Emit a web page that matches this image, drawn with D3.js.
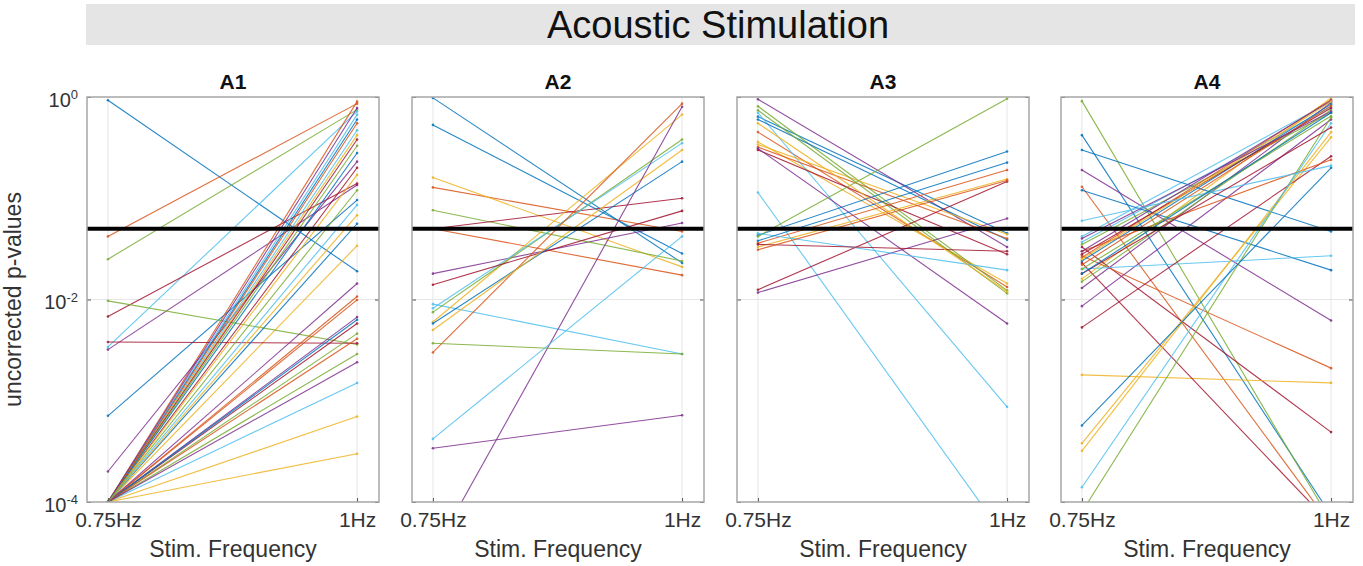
<!DOCTYPE html>
<html>
<head>
<meta charset="utf-8">
<script src="https://cdn.jsdelivr.net/npm/d3@7"></script>
<style>
  body { margin: 0; background: #fff; }
  text { font-family: "Liberation Sans", Arial, Helvetica, sans-serif; }
</style>
</head>
<body>
<svg id="chart"></svg>
<script>
// stimulation frequencies on the x axis
const freqs = [0.75, 1];
const freqLabels = ['0.75Hz', '1Hz'];
const panelNames = ['A1', 'A2', 'A3', 'A4'];
const yTicks = [1, 1e-2, 1e-4];
const yTickExp = ['0', '-2', '-4'];
const threshold = 0.05;

// p-values per line (colour follows the default colour order, line i -> colour i % 7)
const a1At075 = [0.93, 0.042, 1e-4, 0.0032, 0.025, 0.0034, 0.0068,
                 0.00071, 1e-4, 1e-4, 0.0002, 0.0097, 1e-4, 0.0038,
                 1e-4, 1e-4, 1e-4, 1e-4, 1e-4, 1e-4, 1e-4,
                 1e-4, 1e-4, 1e-4, 1e-4, 1e-4, 1e-4, 1e-4,
                 1e-4, 1e-4, 1e-4, 1e-4, 1e-4, 1e-4, 1e-4,
                 1e-4, 1e-4, 1e-4, 1e-4, 1e-4];
const a1At1   = [0.019, 0.86, 0.034, 0.135, 0.75, 0.72, 0.14,
                 0.096, 0.9, 0.0007, 0.23, 0.0036, 0.0015, 0.0037,
                 0.6, 0.0107, 0.0003, 0.0144, 0.0029, 0.47, 0.0058,
                 0.056, 0.0099, 0.42, 0.0067, 0.0046, 0.67, 0.38,
                 0.0063, 0.0041, 0.068, 0.0024, 0.33, 0.086, 0.2,
                 0.28, 0.55, 0.17, 0.78, 0.12];

const a2At075 = [0.98, 0.128, 0.16, 0.018, 0.076, 0.009, 0.05,
                 0.53, 0.05, 0.006, 0.00034, 0.0075, 0.0082, 0.014,
                 0.0058, 0.003, 0.005, 3.1e-5, 0.0037, 0.00042];
const a2At1   = [0.023, 0.047, 0.021, 0.057, 0.024, 0.0029, 0.10,
                 0.0285, 0.0174, 0.67, 0.00072, 0.38, 0.35, 0.075,
                 0.23, 0.86, 0.3, 0.8, 0.0029, 0.042];

const a3At075 = [0.64, 0.45, 0.36, 0.95, 0.81, 0.7, 0.3,
                 0.6, 0.32, 0.34, 0.31, 0.74, 0.114, 0.0125,
                 0.043, 0.036, 0.033, 0.0117, 0.042, 0.045, 0.035,
                 0.038, 0.031, 0.55];
const a3At1   = [0.045, 0.0133, 0.0144, 0.033, 0.0123, 0.00087, 0.028,
                 0.039, 0.04, 0.044, 0.0058, 0.0115, 4.2e-5, 0.146,
                 0.29, 0.19, 0.155, 0.063, 0.96, 0.0195, 0.03,
                 0.225, 0.15, 0.012];

const a4At075 = [0.42, 0.13, 0.016, 0.19, 0.91, 0.042, 0.033,
                 0.30, 0.027, 0.0018, 0.013, 0.035, 0.037, 0.023,
                 0.12, 0.026, 0.00038, 0.0086, 0.015, 0.02, 0.0053,
                 0.024, 0.03, 0.00032, 0.03, 8e-5, 0.00014, 0.028,
                 0.00057, 0.022, 0.025, 0.04, 0.02, 0.06, 0.018,
                 0.018];
const a4At1   = [7.4e-5, 5.9e-5, 0.98, 0.0062, 6.4e-5, 0.9, 0.00049,
                 0.047, 0.0021, 0.0015, 0.88, 0.7, 0.8, 6e-5,
                 0.0195, 0.94, 0.4, 0.6, 0.75, 0.027, 0.26,
                 0.85, 0.24, 0.45, 0.92, 0.63, 0.55, 0.78,
                 0.2, 0.82, 0.9, 0.72, 0.65, 0.21, 0.5,
                 0.7];

const panelData = [[a1At075, a1At1], [a2At075, a2At1], [a3At075, a3At1], [a4At075, a4At1]];
const colors = ['#0072BD', '#D95319', '#EDB120', '#7E2F8E', '#77AC30', '#4DBEEE', '#A2142F'];

const width = 1363, height = 566;
const boxTop = 97, boxBottom = 502, boxWidth = 292;
const boxLefts = [87, 412, 737, 1061];

const svg = d3.select('#chart').attr('width', width).attr('height', height);

// title banner
svg.append('rect')
    .attr('x', 86).attr('y', 4).attr('width', 1269).attr('height', 41)
    .attr('fill', '#e5e5e5');
svg.append('text')
    .attr('x', 718).attr('y', 25)
    .attr('text-anchor', 'middle').attr('dominant-baseline', 'central')
    .attr('font-size', 38).attr('fill', '#111')
    .text('Acoustic Stimulation');

const y = d3.scaleLog().domain([1e-4, 1]).range([boxBottom, boxTop]);

panelNames.forEach((name, k) => {
    const x = d3.scaleLinear().domain([0.729, 1.022]).range([0, boxWidth]);
    const g = svg.append('g').attr('transform', `translate(${boxLefts[k]},0)`);

    g.append('clipPath').attr('id', 'clip' + k)
        .append('rect').attr('x', 0).attr('y', boxTop)
        .attr('width', boxWidth).attr('height', boxBottom - boxTop);

    // grid
    g.selectAll('.vgrid').data(freqs).join('line')
        .attr('x1', d => x(d)).attr('x2', d => x(d))
        .attr('y1', boxTop).attr('y2', boxBottom)
        .attr('stroke', '#e6e6e6').attr('stroke-width', 1);
    g.append('line')
        .attr('x1', 0).attr('x2', boxWidth)
        .attr('y1', y(1e-2)).attr('y2', y(1e-2))
        .attr('stroke', '#e6e6e6').attr('stroke-width', 1);

    const [ps, pe] = panelData[k];
    const line = d3.line().x(d => x(d.f)).y(d => y(d.p));
    const lines = ps.map((p, i) => [{f: freqs[0], p: p}, {f: freqs[1], p: pe[i]}]);

    const plot = g.append('g').attr('clip-path', `url(#clip${k})`);
    lines.forEach((pts, i) => {
        plot.append('path')
            .datum(pts)
            .attr('fill', 'none')
            .attr('stroke', colors[i % colors.length])
            .attr('stroke-opacity', 0.85)
            .attr('stroke-width', 1.1)
            .attr('d', line);
        plot.selectAll(null).data(pts).join('circle')
            .attr('cx', d => x(d.f)).attr('cy', d => y(d.p)).attr('r', 1.3)
            .attr('fill', colors[i % colors.length]).attr('fill-opacity', 0.85);
    });

    // threshold
    g.append('line')
        .attr('x1', 0).attr('x2', boxWidth)
        .attr('y1', y(threshold)).attr('y2', y(threshold))
        .attr('stroke', '#000').attr('stroke-width', 4);

    // axes
    const xAxis = g.append('g')
        .attr('transform', `translate(0,${boxBottom})`)
        .call(d3.axisBottom(x).tickValues(freqs).tickSize(-4).tickPadding(10)
            .tickFormat((d, i) => freqLabels[i]));
    xAxis.select('.domain').remove();
    xAxis.selectAll('line').attr('stroke', '#555');
    xAxis.selectAll('text').attr('font-size', 21).attr('fill', '#333')
        .attr('font-family', '"Liberation Sans", Arial, sans-serif');

    const yAxis = g.append('g')
        .call(d3.axisLeft(y).tickValues(yTicks).tickSize(-4).tickPadding(8)
            .tickFormat(() => ''));
    yAxis.select('.domain').remove();
    yAxis.selectAll('line').attr('stroke', '#555');

    const yAxisR = g.append('g')
        .attr('transform', `translate(${boxWidth},0)`)
        .call(d3.axisRight(y).tickValues(yTicks).tickSize(-4).tickFormat(() => ''));
    yAxisR.select('.domain').remove();
    yAxisR.selectAll('line').attr('stroke', '#555');

    if (k === 0) {
        yAxis.selectAll('.tick text').each(function (d, i) {
            const t = d3.select(this)
                .attr('font-size', 20).attr('fill', '#333')
                .attr('font-family', '"Liberation Sans", Arial, sans-serif')
                .attr('x', -9).attr('dy', '0.45em');
            t.append('tspan').text('10');
            t.append('tspan').attr('dy', '-0.55em').attr('font-size', 13).text(yTickExp[i]);
        });
        g.append('text')
            .attr('transform', `translate(-66,${(boxTop + boxBottom) / 2}) rotate(-90)`)
            .attr('text-anchor', 'middle')
            .attr('font-size', 23).attr('fill', '#333')
            .text('uncorrected p-values');
    }

    g.append('rect')
        .attr('x', 0).attr('y', boxTop).attr('width', boxWidth).attr('height', boxBottom - boxTop)
        .attr('fill', 'none').attr('stroke', '#a6a6a6').attr('stroke-width', 1.5);

    g.append('text')
        .attr('x', boxWidth / 2).attr('y', 89)
        .attr('text-anchor', 'middle')
        .attr('font-size', 21).attr('font-weight', 'bold').attr('fill', '#111')
        .text(name);

    g.append('text')
        .attr('x', boxWidth / 2).attr('y', 557)
        .attr('text-anchor', 'middle')
        .attr('font-size', 23).attr('fill', '#333')
        .text('Stim. Frequency');
});
</script>
</body>
</html>
